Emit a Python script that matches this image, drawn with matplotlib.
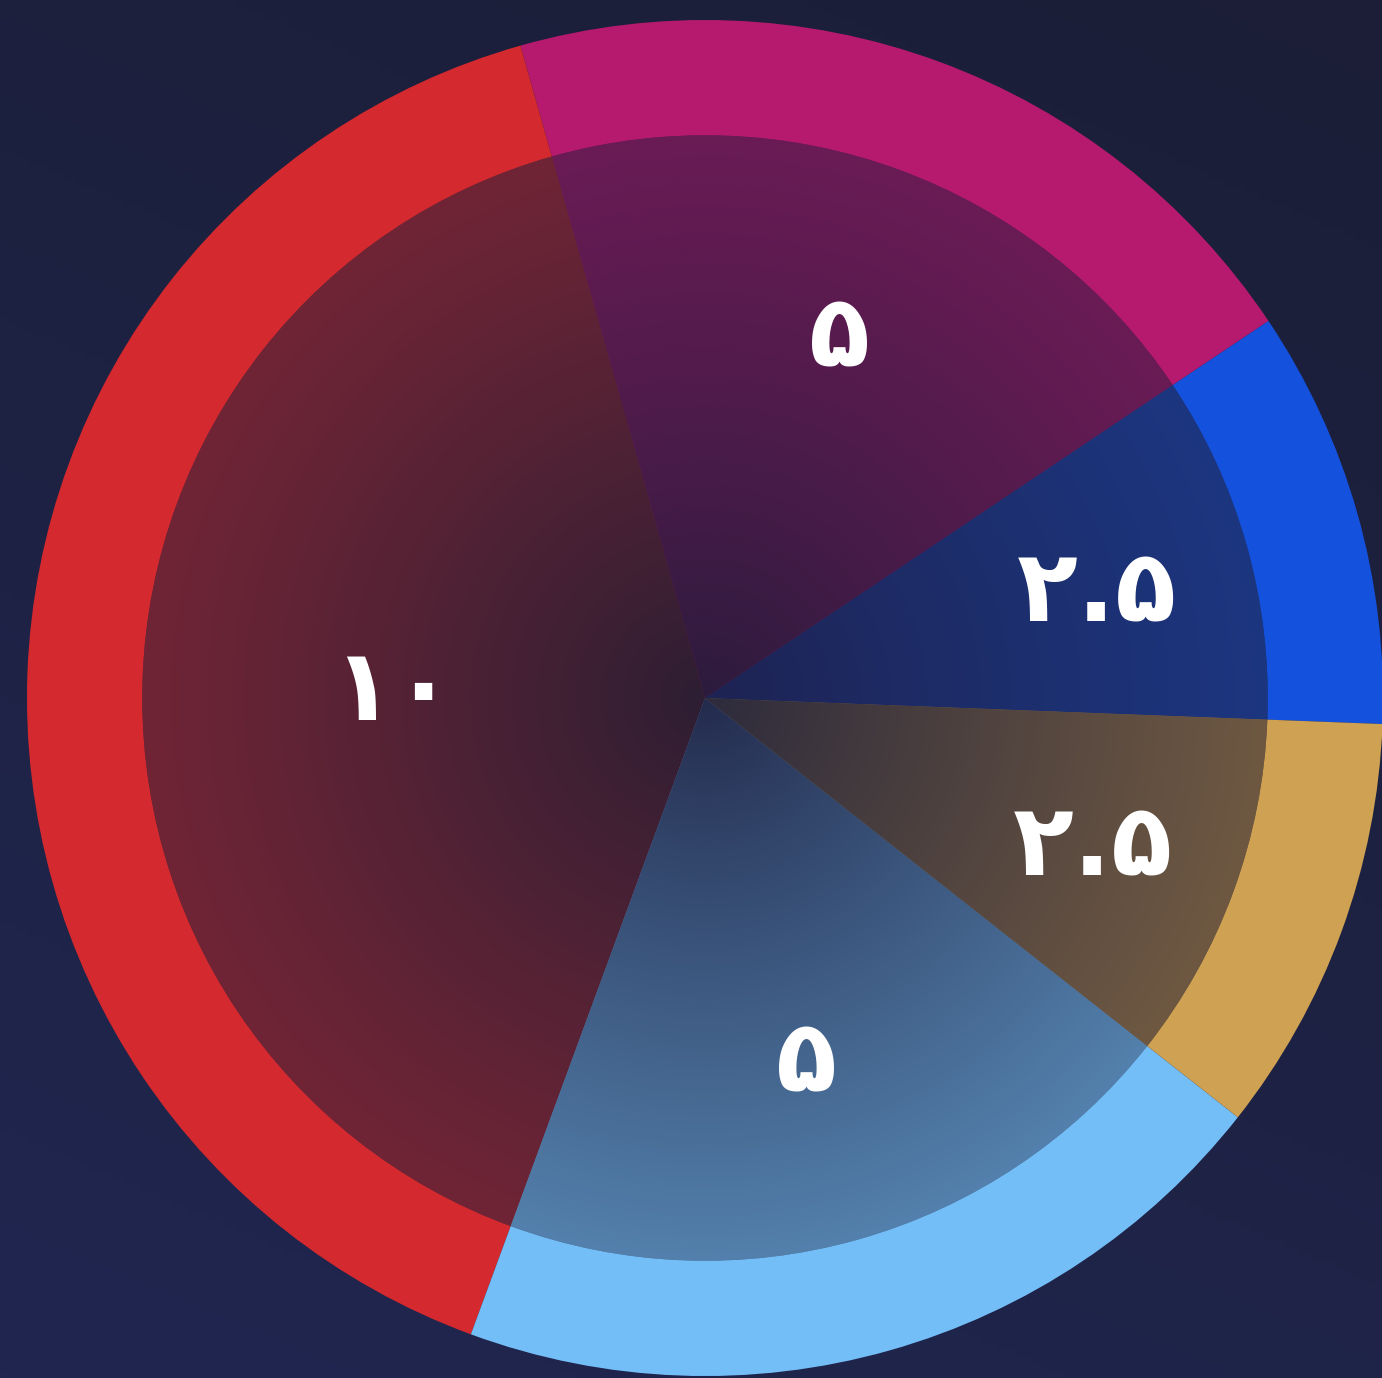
import numpy as np
import matplotlib
matplotlib.use("Agg")
from matplotlib import pyplot as plt
from matplotlib.colors import to_rgb

# data, in drawing order (counter-clockwise from the right)
values = [2.5, 5, 10, 5, 2.5]
labels = ["۲.۵", "۵", "۱۰", "۵", "۲.۵"]
ring_colors = ["#1451DC", "#B51A6E", "#D4292E", "#74BEF8", "#CFA152"]
edge_colors = ["#1C3680", "#6A1B55", "#702536", "#5380AC", "#6E5842"]
core_colors = ["#1E2352", "#2B1B3D", "#2C1E33", "#232A4C", "#2C2A3C"]
label_dist = [0.60, 0.575, 0.46, 0.55, 0.61]

R_IN = 0.83

fig = plt.figure(figsize=(13.82, 13.78), dpi=100)
ax = fig.add_axes([0, 0, 1, 1])

# background gradient
gx, gy = np.meshgrid(np.linspace(0, 1, 200), np.linspace(0, 1, 200))
top = np.array(to_rgb("#1B1E36"))
bot = np.array(to_rgb("#202650"))
t = np.clip(gy * 0.7 + (1 - gx) * 0.3, 0, 1)[..., None]
bg = top + (bot - top) * t
ax.imshow(bg, extent=(-1.04, 1.0, -1.003, 1.03), origin="upper", zorder=0)

# outer ring
outer, _ = ax.pie(values, colors=ring_colors, radius=1.0, startangle=-2.2,
                  counterclock=True, wedgeprops=dict(linewidth=0))
# inner wedges
inner, _ = ax.pie(values, colors=edge_colors, radius=R_IN, startangle=-2.2,
                  counterclock=True, wedgeprops=dict(linewidth=0))

xs = np.linspace(-R_IN, R_IN, 500)
X, Y = np.meshgrid(xs, xs[::-1])
rr = np.clip(np.sqrt(X ** 2 + Y ** 2) / R_IN, 0, 1) ** 0.9
for w, c0, c1, lab, d in zip(inner, core_colors, edge_colors, labels, label_dist):
    a = np.array(to_rgb(c0))
    b = np.array(to_rgb(c1))
    img = a + (b - a) * rr[..., None]
    im = ax.imshow(img, extent=(-R_IN, R_IN, -R_IN, R_IN), zorder=3)
    im.set_clip_path(w)
    mid = np.deg2rad((w.theta1 + w.theta2) / 2)
    ax.text(d * np.cos(mid), d * np.sin(mid) - 0.01, lab, color="white",
            fontsize=72, fontweight="bold", family="DejaVu Sans",
            ha="center", va="center", zorder=5)

ax.set_xlim(-1.0398, 0.9985)
ax.set_ylim(-1.0029, 1.0295)
ax.set_aspect("auto")
ax.axis("off")

fig.savefig("out.png", dpi=100)
